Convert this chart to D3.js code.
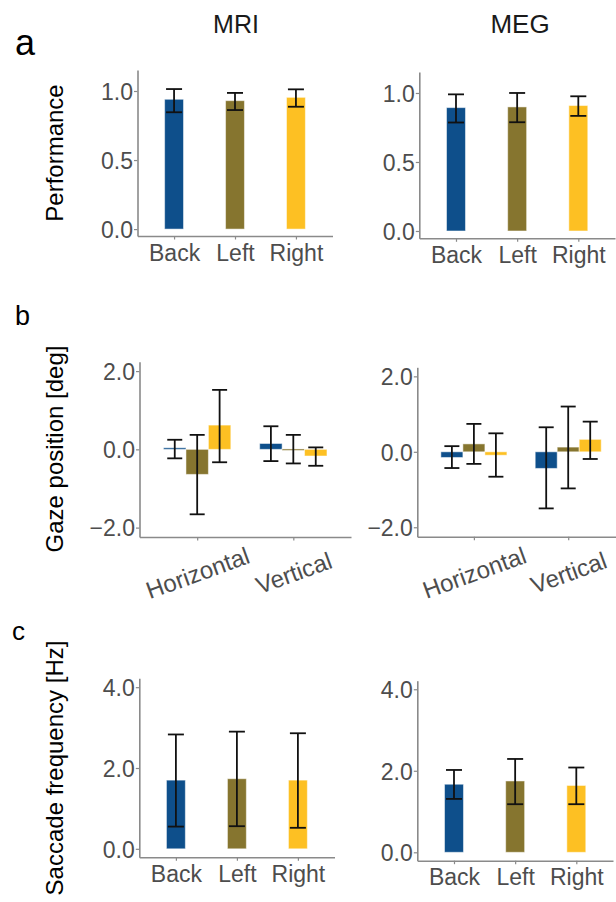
<!DOCTYPE html>
<html lang="en">
<head>
<meta charset="UTF-8">
<title>Performance, gaze position and saccade frequency</title>
<script src="https://d3js.org/d3.v7.min.js"></script>
<style>
  html, body { margin: 0; padding: 0; background: #fff; }
  svg { display: block; font-family: "Liberation Sans", Arial, Helvetica, sans-serif; }
</style>
</head>
<body>
<svg id="chart" width="616" height="902"></svg>
<script>
const conditions = ["Back", "Left", "Right"];
const conditionColors = ["#0E4F8B", "#86752F", "#FDC023"];
const directions = ["Horizontal", "Vertical"];
const sessions = ["MRI", "MEG"];

// a: performance (bar value, lower / upper end of the error bar)
const perfMriMean = [0.94, 0.93, 0.954];
const perfMriLow = [0.846, 0.862, 0.886];
const perfMriHigh = [1.014, 0.986, 1.012];
const perfMegMean = [0.894, 0.899, 0.909];
const perfMegLow = [0.786, 0.788, 0.834];
const perfMegHigh = [0.99, 1.0, 0.976];
const perfTicks = [0, 0.5, 1];

// b: gaze position, one row per direction (Back, Left, Right)
const gazeMriMean = [[0.04, -0.64, 0.62], [0.15, 0.01, -0.17]];
const gazeMriLow = [[-0.23, -1.66, -0.33], [-0.30, -0.36, -0.42]];
const gazeMriHigh = [[0.245, 0.37, 1.52], [0.59, 0.37, 0.05]];
const gazeMegMean = [[-0.15, 0.21, -0.09], [-0.44, 0.125, 0.33]];
const gazeMegLow = [[-0.43, -0.32, -0.66], [-1.50, -0.97, -0.19]];
const gazeMegHigh = [[0.15, 0.74, 0.49], [0.65, 1.20, 0.80]];
const gazeTicks = [-2, 0, 2];

// c: saccade frequency
const sacMriMean = [1.70, 1.735, 1.70];
const sacMriLow = [0.55, 0.56, 0.52];
const sacMriHigh = [2.83, 2.90, 2.86];
const sacMegMean = [1.67, 1.75, 1.64];
const sacMegLow = [1.31, 1.18, 1.18];
const sacMegHigh = [2.02, 2.29, 2.08];
const sacTicks = [0, 2, 4];

const svg = d3.select("#chart");
const fmt = d3.format(".1f");
const axisColor = "#8a8a8a";
const tickTextColor = "#4d4d4d";

function styleAxis(g) {
    g.select(".domain").attr("stroke", axisColor).attr("stroke-width", 1.6);
    g.selectAll(".tick line").attr("stroke", axisColor).attr("stroke-width", 1.2);
    g.selectAll(".tick text")
        .attr("fill", tickTextColor)
        .style("font-size", "23px");
}

function drawErrorBar(g, cx, y, lo, hi, cap) {
    g.append("line")
        .attr("x1", cx).attr("x2", cx)
        .attr("y1", y(lo)).attr("y2", y(hi));
    [lo, hi].forEach(v => {
        g.append("line")
            .attr("x1", cx - cap / 2).attr("x2", cx + cap / 2)
            .attr("y1", y(v)).attr("y2", y(v));
    });
}

function drawYAxis(p, y, ticks) {
    const g = svg.append("g")
        .attr("transform", `translate(${p.left},0)`)
        .call(d3.axisLeft(y).tickValues(ticks).tickFormat(fmt).tickSize(3.5).tickSizeOuter(0).tickPadding(1));
    g.selectAll(".tick text").attr("dy", "0.36em");
    styleAxis(g);
}

// simple panel: three bars, one per condition
function barPanel(p, mean, low, high, ticks) {
    const x = d3.scalePoint().domain(conditions).range([p.left, p.right]).padding(0.6);
    const y = d3.scaleLinear().domain(p.yDomain).range([p.bottom, p.top]);
    const bw = x.step() * 0.31;

    svg.append("g").selectAll("rect")
        .data(conditions)
        .join("rect")
        .attr("x", d => x(d) - bw / 2)
        .attr("width", bw)
        .attr("y", (d, i) => y(Math.max(0, mean[i])))
        .attr("height", (d, i) => Math.abs(y(mean[i]) - y(0)))
        .attr("fill", (d, i) => conditionColors[i])
        .attr("stroke", "#fff").attr("stroke-opacity", 0.5).attr("stroke-width", 1);

    const eg = svg.append("g").attr("stroke", "#111").attr("stroke-width", 1.8);
    conditions.forEach((c, i) => drawErrorBar(eg, x(c), y, low[i], high[i], 16));

    drawYAxis(p, y, ticks);

    const xg = svg.append("g")
        .attr("transform", `translate(0,${p.bottom})`)
        .call(d3.axisBottom(x).tickSize(3.5).tickSizeOuter(0));
    xg.selectAll(".tick text").attr("y", 24.5).attr("dy", 0);
    styleAxis(xg);
    return { x, y };
}

// grouped panel: directions on x, conditions dodged inside
function groupPanel(p, mean, low, high, ticks) {
    const x = d3.scalePoint().domain(directions).range([p.left, p.right]).padding(0.6);
    const y = d3.scaleLinear().domain(p.yDomain).range([p.bottom, p.top]);
    const inner = d3.scaleBand().domain(conditions)
        .range([-x.step() * 0.35, x.step() * 0.35]);

    const cells = [];
    directions.forEach((dir, di) => conditions.forEach((c, ci) => {
        cells.push({ dir, c, ci, v: mean[di][ci], lo: low[di][ci], hi: high[di][ci] });
    }));

    svg.append("g").selectAll("rect")
        .data(cells)
        .join("rect")
        .attr("x", d => x(d.dir) + inner(d.c))
        .attr("width", inner.bandwidth())
        .attr("y", d => y(Math.max(0, d.v)))
        .attr("height", d => Math.max(1.5, Math.abs(y(d.v) - y(0))))
        .attr("fill", d => conditionColors[d.ci])
        .attr("stroke", "#fff").attr("stroke-opacity", 0.5).attr("stroke-width", 1);

    const eg = svg.append("g").attr("stroke", "#111").attr("stroke-width", 1.8);
    cells.forEach(d => drawErrorBar(eg, x(d.dir) + inner(d.c) + inner.bandwidth() / 2, y, d.lo, d.hi, 15));

    drawYAxis(p, y, ticks);

    const xg = svg.append("g")
        .attr("transform", `translate(0,${p.bottom})`)
        .call(d3.axisBottom(x).tickSize(3.5).tickSizeOuter(0));
    xg.selectAll(".tick text")
        .attr("y", 0).attr("dy", "0.35em")
        .attr("text-anchor", "middle")
        .attr("transform", "translate(0,36) rotate(-20)");
    styleAxis(xg);
    xg.selectAll(".tick text").style("font-size", "24px");
}

// panel a
barPanel({ left: 137.5, right: 332.5, top: 70, bottom: 236, yDomain: [-0.05, 1.152] },
    perfMriMean, perfMriLow, perfMriHigh, perfTicks);
barPanel({ left: 419.3, right: 615, top: 72, bottom: 238.3, yDomain: [-0.053, 1.152] },
    perfMegMean, perfMegLow, perfMegHigh, perfTicks);

// panel b
groupPanel({ left: 139.5, right: 351, top: 361.7, bottom: 537, yDomain: [-2.24, 2.24] },
    gazeMriMean, gazeMriLow, gazeMriHigh, gazeTicks);
groupPanel({ left: 417.3, right: 624.8, top: 367.3, bottom: 536.7, yDomain: [-2.25, 2.24] },
    gazeMegMean, gazeMegLow, gazeMegHigh, gazeTicks);

// panel c
barPanel({ left: 139.3, right: 334.5, top: 678.3, bottom: 857.3, yDomain: [-0.21, 4.22] },
    sacMriMean, sacMriLow, sacMriHigh, sacTicks);
barPanel({ left: 417.3, right: 613, top: 680.7, bottom: 860.7, yDomain: [-0.206, 4.21] },
    sacMegMean, sacMegLow, sacMegHigh, sacTicks);

// column titles
svg.append("text").attr("x", 236).attr("y", 33).attr("text-anchor", "middle")
    .style("font-size", "25px").attr("fill", "#1a1a1a").text(sessions[0]);
svg.append("text").attr("x", 520).attr("y", 33).attr("text-anchor", "middle")
    .style("font-size", "26px").attr("fill", "#1a1a1a").text(sessions[1]);

// panel letters
[["a", 15, 55, 36], ["b", 15, 325, 27], ["c", 12, 640, 26]].forEach(([t, x, y, s]) => {
    svg.append("text").attr("x", x).attr("y", y)
        .style("font-size", s + "px").attr("fill", "#000").text(t);
});

// y axis titles
[["Performance", 153], ["Gaze position [deg]", 449], ["Saccade frequency [Hz]", 768]].forEach(([t, cy]) => {
    svg.append("text")
        .attr("transform", `translate(63,${cy}) rotate(-90)`)
        .attr("text-anchor", "middle")
        .style("font-size", "24px").attr("fill", "#000")
        .text(t);
});
</script>
</body>
</html>
